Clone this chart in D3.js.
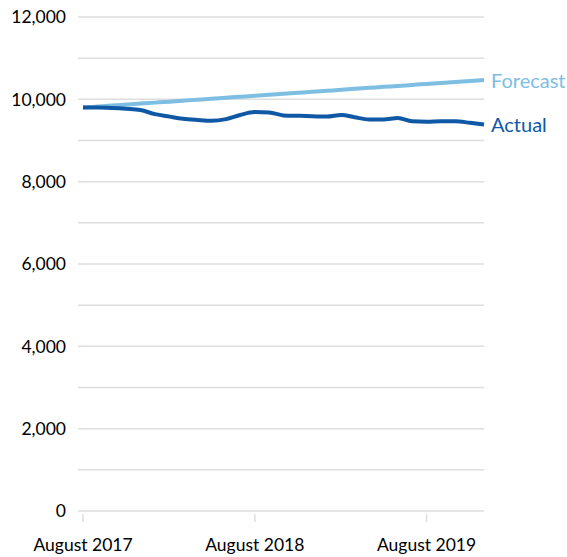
<!DOCTYPE html>
<html>
<head>
<meta charset="utf-8">
<script src="https://cdn.jsdelivr.net/npm/d3@7"></script>
<style>
  html, body { margin: 0; padding: 0; background: #fff; }
  svg text { font-family: Lato, "Open Sans", sans-serif; }
</style>
</head>
<body>
<svg id="chart" width="567" height="557"></svg>
<script>
// Monthly, August 2017 .. December 2019
const months = ["2017-08","2017-09","2017-10","2017-11","2017-12",
  "2018-01","2018-02","2018-03","2018-04","2018-05","2018-06","2018-07","2018-08","2018-09","2018-10","2018-11","2018-12",
  "2019-01","2019-02","2019-03","2019-04","2019-05","2019-06","2019-07","2019-08","2019-09","2019-10","2019-11","2019-12"];
const actual = [9800, 9800, 9790, 9770, 9740,
  9640, 9580, 9530, 9500, 9480, 9520, 9620, 9690, 9680, 9610, 9600, 9590,
  9580, 9620, 9565, 9510, 9510, 9545, 9465, 9455, 9470, 9470, 9430, 9390];
const forecast = [9800, 9824, 9848, 9872, 9896,
  9920, 9944, 9968, 9991, 10015, 10039, 10063, 10087, 10111, 10135, 10159, 10183,
  10207, 10231, 10255, 10279, 10303, 10326, 10350, 10374, 10398, 10422, 10446, 10470];
const yTicks = [0, 2000, 4000, 6000, 8000, 10000, 12000];
const yGrid = [0,1000,2000,3000,4000,5000,6000,7000,8000,9000,10000,11000,12000];
const xTicks = ["2017-08", "2018-08", "2019-08"];
const seriesNames = ["Forecast", "Actual"];

const parse = d3.timeParse("%Y-%m");
const dates = months.map(parse);

const svg = d3.select("#chart");
const x = d3.scaleTime().domain([dates[0], dates[dates.length - 1]]).range([83, 484]);
const y = d3.scaleLinear().domain([0, 12000]).range([511, 17]);

// gridlines
svg.append("g").selectAll("line").data(yGrid).join("line")
  .attr("x1", 78).attr("x2", 484)
  .attr("y1", d => y(d)).attr("y2", d => y(d))
  .attr("stroke", "#dedede").attr("stroke-width", 1.5);

// y labels
svg.append("g").selectAll("text").data(yTicks).join("text")
  .attr("x", 66).attr("y", d => y(d)).attr("dy", "0.36em")
  .attr("text-anchor", "end").attr("font-size", 17.5).attr("fill", "#000")
  .text(d => d3.format(",")(d));

// x ticks
const xt = svg.append("g").selectAll("g").data(xTicks.map(parse)).join("g")
  .attr("transform", d => `translate(${x(d)},0)`);
xt.append("line").attr("y1", 514).attr("y2", 522).attr("stroke", "#dedede").attr("stroke-width", 1.5);
xt.append("text").attr("y", 551).attr("text-anchor", "middle")
  .attr("font-size", 17.5).attr("fill", "#000")
  .text(d3.timeFormat("%B %Y"));

const line = d3.line().x((d, i) => x(dates[i])).y(d => y(d)).curve(d3.curveMonotoneX);

const colors = { Forecast: "#7dbee2", Actual: "#0f58a6" };

svg.append("path").datum(forecast).attr("d", line)
  .attr("fill", "none").attr("stroke", colors.Forecast).attr("stroke-width", 4);
svg.append("path").datum(actual).attr("d", line)
  .attr("fill", "none").attr("stroke", colors.Actual).attr("stroke-width", 4);

const lastVals = { Forecast: forecast[forecast.length - 1], Actual: actual[actual.length - 1] };
svg.append("g").selectAll("text").data(seriesNames).join("text")
  .attr("x", 491).attr("y", d => y(lastVals[d]))
  .attr("dy", "0.38em")
  .attr("font-size", 20).attr("fill", d => colors[d])
  .text(d => d);
</script>
</body>
</html>
